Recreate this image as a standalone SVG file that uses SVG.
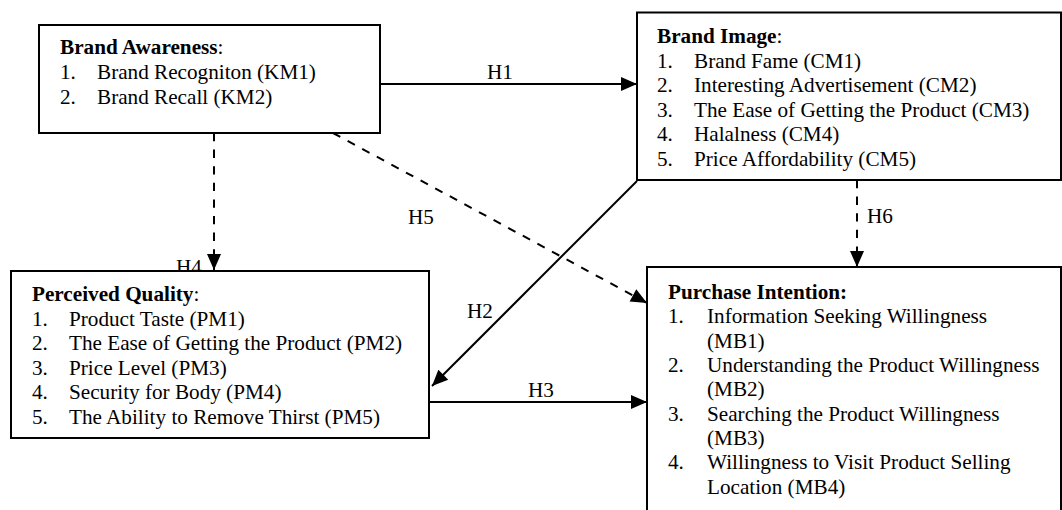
<svg xmlns="http://www.w3.org/2000/svg" width="1062" height="510" viewBox="0 0 1062 510">
<style>
text{font-family:"Liberation Serif","Times New Roman",serif;font-size:21.2px;fill:#000}
.b{font-weight:bold}
.box{fill:#fff;stroke:#000;stroke-width:2}
.ln{fill:none;stroke:#000;stroke-width:2}
.dash{stroke-dasharray:8.3 8.3}
</style>
<defs>
<marker id="ah" markerUnits="userSpaceOnUse" markerWidth="17" markerHeight="15" refX="16" refY="7" orient="auto" overflow="visible">
<path d="M0,0 L16,7 L0,14 Z" fill="#000"/>
</marker>
</defs>
<rect width="1062" height="510" fill="#fff"/>
<g id="connectors">
<path class="ln" d="M381,84 L637,84" marker-end="url(#ah)"/>
<path class="ln dash" d="M214,133 L214,270" marker-end="url(#ah)"/>
<path class="ln dash" d="M333,133 L647,303" marker-end="url(#ah)"/>
<path class="ln" d="M637,181 L432,386" marker-end="url(#ah)"/>
<path class="ln" d="M429,402 L647,402" marker-end="url(#ah)"/>
<path class="ln dash" d="M857,180 L857,267" marker-end="url(#ah)"/>
<text x="487" y="79">H1</text>
<text x="467" y="318">H2</text>
<text x="528" y="397">H3</text>
<text x="176" y="274">H4</text>
<text x="408" y="224">H5</text>
<text x="867" y="223">H6</text>
</g>
<g id="brand-awareness">
<rect class="box" x="39" y="25" width="341" height="108"/>
<text x="60" y="54"><tspan class="b">Brand Awareness</tspan>:</text>
<text x="60" y="79">1.</text><text x="97" y="79">Brand Recogniton (KM1)</text>
<text x="60" y="104">2.</text><text x="97" y="104">Brand Recall (KM2)</text>
</g>
<g id="brand-image">
<rect class="box" x="637" y="12.5" width="424" height="167.5"/>
<text x="657" y="43"><tspan class="b">Brand Image</tspan>:</text>
<text x="657" y="67.6">1.</text><text x="694" y="67.6">Brand Fame (CM1)</text>
<text x="657" y="92.2">2.</text><text x="694" y="92.2">Interesting Advertisement (CM2)</text>
<text x="657" y="116.8">3.</text><text x="694" y="116.8">The Ease of Getting the Product (CM3)</text>
<text x="657" y="141.4">4.</text><text x="694" y="141.4">Halalness (CM4)</text>
<text x="657" y="166">5.</text><text x="694" y="166">Price Affordability (CM5)</text>
</g>
<g id="perceived-quality">
<rect class="box" x="11" y="271" width="418" height="167"/>
<text x="32" y="301"><tspan class="b">Perceived Quality</tspan>:</text>
<text x="32" y="325.5">1.</text><text x="69" y="325.5">Product Taste (PM1)</text>
<text x="32" y="350">2.</text><text x="69" y="350">The Ease of Getting the Product (PM2)</text>
<text x="32" y="374.5">3.</text><text x="69" y="374.5">Price Level (PM3)</text>
<text x="32" y="399">4.</text><text x="69" y="399">Security for Body (PM4)</text>
<text x="32" y="423.5">5.</text><text x="69" y="423.5">The Ability to Remove Thirst (PM5)</text>
</g>
<g id="purchase-intention">
<rect class="box" x="647" y="267" width="414" height="260"/>
<text x="668" y="299" class="b">Purchase Intention:</text>
<text x="668" y="323">1.</text><text x="707" y="323">Information Seeking Willingness</text>
<text x="707" y="347.5">(MB1)</text>
<text x="668" y="372">2.</text><text x="707" y="372">Understanding the Product Willingness</text>
<text x="707" y="396">(MB2)</text>
<text x="668" y="420.5">3.</text><text x="707" y="420.5">Searching the Product Willingness</text>
<text x="707" y="445">(MB3)</text>
<text x="668" y="469">4.</text><text x="707" y="469">Willingness to Visit Product Selling</text>
<text x="707" y="493.5">Location (MB4)</text>
</g>
</svg>
